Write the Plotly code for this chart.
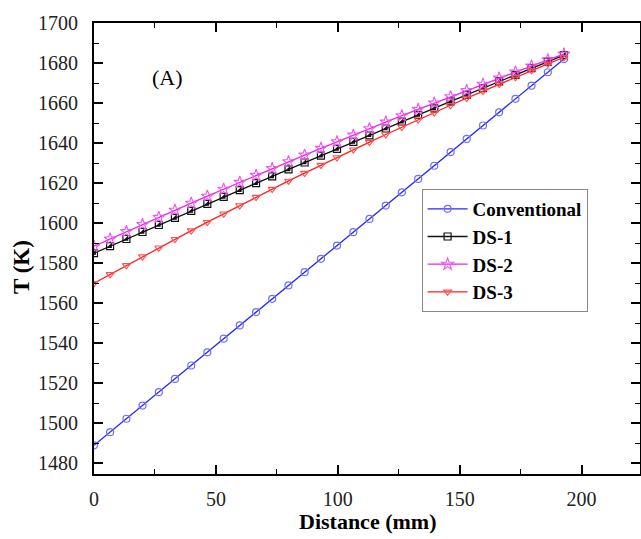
import plotly.graph_objects as go

distance = [0, 6.6, 13.3, 19.9, 26.6, 33.2, 39.9, 46.5, 53.2, 59.8, 66.5, 73.1, 79.8, 86.4, 93.1,
            99.7, 106.4, 113.0, 119.7, 126.3, 133.0, 139.6, 146.3, 152.9, 159.6, 166.2, 172.9, 179.5, 186.2, 192.8]

conventional = [1489.0, 1495.6, 1502.3, 1508.9, 1515.6, 1522.2, 1528.9, 1535.5, 1542.3, 1548.9,
                1555.6, 1562.2, 1568.9, 1575.5, 1582.2, 1588.8, 1595.5, 1602.1, 1608.8, 1615.4,
                1622.1, 1628.7, 1635.5, 1642.1, 1648.8, 1655.4, 1662.1, 1668.7, 1675.4, 1682.0]

ds1 = [1585.0, 1588.5, 1592.1, 1595.6, 1599.1, 1602.6, 1606.1, 1609.6, 1613.1, 1616.5,
       1620.0, 1623.4, 1626.9, 1630.3, 1633.7, 1637.1, 1640.6, 1643.9, 1647.3, 1650.7,
       1654.1, 1657.4, 1660.8, 1664.1, 1667.5, 1670.8, 1674.1, 1677.4, 1680.7, 1684.0]

ds2 = [1588.5, 1592.1, 1595.8, 1599.3, 1602.9, 1606.5, 1610.0, 1613.5, 1617.0, 1620.4,
       1623.9, 1627.3, 1630.7, 1634.0, 1637.4, 1640.7, 1644.0, 1647.2, 1650.5, 1653.7,
       1656.9, 1660.0, 1663.2, 1666.3, 1669.4, 1672.5, 1675.5, 1678.5, 1681.6, 1684.5]

ds3 = [1570.0, 1574.4, 1578.9, 1583.3, 1587.7, 1592.0, 1596.3, 1600.5, 1604.7, 1608.8,
       1613.0, 1617.0, 1621.1, 1625.0, 1629.0, 1632.8, 1636.7, 1640.5, 1644.3, 1648.0,
       1651.7, 1655.3, 1658.9, 1662.5, 1666.0, 1669.5, 1672.9, 1676.3, 1679.6, 1682.9]

FONT = "Liberation Serif"

fig = go.Figure()

fig.add_trace(go.Scatter(
    x=distance, y=conventional, name="Conventional", mode="lines+markers",
    line=dict(color="#2424ff", width=1.3),
    marker=dict(symbol="circle-open", size=7, color="#6f6fff", line=dict(width=1.2))))

fig.add_trace(go.Scatter(
    x=distance, y=ds1, name="DS-1", mode="lines+markers",
    line=dict(color="#111111", width=1.3),
    marker=dict(symbol="square-open", size=7, color="#111111", line=dict(width=1.2))))
fig.add_trace(go.Scatter(
    x=distance, y=ds1, name="DS-1", mode="markers", showlegend=False, hoverinfo="skip",
    marker=dict(symbol="triangle-se", size=6, color="#111111", line=dict(width=0))))

fig.add_trace(go.Scatter(
    x=distance, y=ds2, name="DS-2", mode="lines+markers",
    line=dict(color="#ee22ee", width=1.3),
    marker=dict(symbol="star-open", size=9, color="#ee55ee", line=dict(width=1.1))))

fig.add_trace(go.Scatter(
    x=distance, y=ds3, name="DS-3", mode="lines+markers",
    line=dict(color="#ff2020", width=1.3),
    marker=dict(symbol="triangle-down-open", size=7, color="#ff5050", line=dict(width=1.1))))

axis_common = dict(
    showline=True, linecolor="black", linewidth=2, mirror="ticks",
    ticks="inside", ticklen=9, tickwidth=1.6, tickcolor="black",
    showgrid=False, zeroline=False, automargin=False,
    tickfont=dict(family=FONT, size=20, color="#222222"),
)

fig.update_xaxes(
    range=[0, 224], tick0=0, dtick=50, ticklabelstandoff=6,
    minor=dict(ticks="inside", ticklen=5, tickwidth=1.4, tickcolor="black", dtick=25, tick0=0, showgrid=False),
    **axis_common)

fig.update_yaxes(
    range=[1474.7, 1700], tick0=1480, dtick=20, ticklabelstandoff=10,
    minor=dict(ticks="inside", ticklen=5, tickwidth=1.4, tickcolor="black", dtick=10, tick0=1480, showgrid=False),
    **axis_common)

# axis titles
fig.add_annotation(
    x=0.5, y=0, xref="paper", yref="paper", yshift=-47, text="<b>Distance (mm)</b>",
    showarrow=False, font=dict(family=FONT, size=22, color="black"),
    xanchor="center", yanchor="middle")
fig.add_annotation(
    x=0, y=0.459, xref="paper", yref="paper", xshift=-72, text="<b>T (K)</b>", textangle=-90,
    showarrow=False, font=dict(family=FONT, size=23, color="black"),
    xanchor="center", yanchor="middle")

fig.add_annotation(
    x=0.1025, y=0.88, xref="paper", yref="paper", text="(A)", showarrow=False,
    font=dict(family=FONT, size=22, color="black"), xanchor="left", yanchor="middle")

fig.update_layout(
    width=641, height=539,
    margin=dict(l=94, r=1, t=23, b=65),
    paper_bgcolor="white", plot_bgcolor="white",
    legend=dict(
        x=0.6, y=0.632, xanchor="left", yanchor="top",
        bgcolor="white", bordercolor="#888888", borderwidth=1,
        font=dict(family=FONT, size=19, color="black", weight="bold"),
        itemwidth=40, tracegroupgap=0,
    ),
)

fig.write_html("out.html", config={"displayModeBar": False},
               post_script="document.body.style.margin='0px';")
